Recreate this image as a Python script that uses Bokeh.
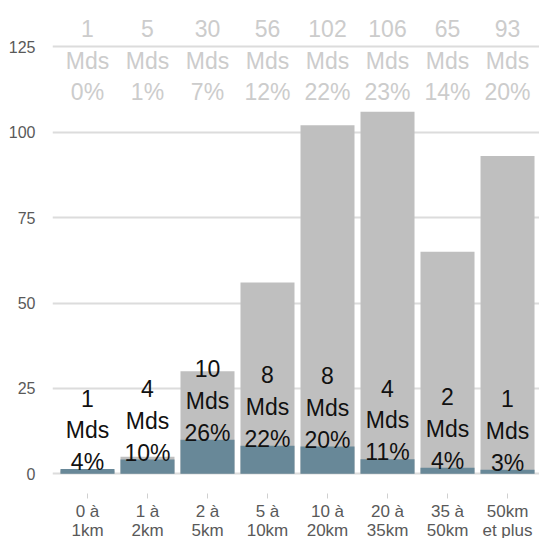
from bokeh.plotting import figure
from bokeh.models import Range1d, FixedTicker, ColumnDataSource
from bokeh.core.properties import value
from bokeh.embed import file_html
from bokeh.resources import INLINE

# Distance classes
categories = ["0 à\n1km", "1 à\n2km", "2 à\n5km", "5 à\n10km",
              "10 à\n20km", "20 à\n35km", "35 à\n50km", "50km\net plus"]
# Total volume per class (Mds) and share of the total
total_mds = [1, 5, 30, 56, 102, 106, 65, 93]
total_pct = ["0%", "1%", "7%", "12%", "22%", "23%", "14%", "20%"]
# Highlighted part per class (Mds) and its share
part_mds = [1.4, 4.2, 10, 8.2, 8, 4.3, 1.8, 1.2]
part_pct = ["4%", "10%", "26%", "22%", "20%", "11%", "4%", "3%"]
y_ticks = [0, 25, 50, 75, 100, 125]

FONT = "Liberation Sans"
idx = list(range(len(categories)))

src = ColumnDataSource(dict(
    x=idx,
    total=total_mds,
    part=part_mds,
    total_num=[f"{v:g}" for v in total_mds],
    total_pct=total_pct,
    part_num=[f"{round(v)}" for v in part_mds],
    part_pct=part_pct,
    mds=["Mds"] * len(idx),
    top=[125] * len(idx),
))

p = figure(frame_width=487, frame_height=493, output_backend="svg",
           toolbar_location=None,
           x_range=Range1d(-0.583, 7.533), y_range=Range1d(-5.75, 138.55),
           min_border_left=52, min_border_right=0, min_border_top=0,
           min_border_bottom=0)
p.outline_line_color = None
p.background_fill_color = "white"
p.border_fill_color = "white"

# Bars
p.vbar(x="x", top="total", bottom=0, width=0.9, source=src,
       fill_color="#bfbfbf", line_color=None)
p.vbar(x="x", top="part", bottom=0, width=0.9, source=src,
       fill_color="#688898", line_color=None)

# Labels inside the bars, stacked above the highlighted part
lab = dict(source=src, text_font=value(FONT), text_font_size="23px",
           text_color="#111111", text_align="center",
           text_baseline="alphabetic")
p.text(x="x", y="part", text="part_pct", y_offset=-7, **lab)
p.text(x="x", y="part", text="mds", y_offset=-39, **lab)
p.text(x="x", y="part", text="part_num", y_offset=-71, **lab)

# Totals along the top
top = dict(source=src, text_font=value(FONT), text_font_size="23px",
           text_color="#cccccc", text_align="center",
           text_baseline="alphabetic")
p.text(x="x", y="top", text="total_num", y_offset=-18, **top)
p.text(x="x", y="top", text="mds", y_offset=14, **top)
p.text(x="x", y="top", text="total_pct", y_offset=45, **top)

# Grid
p.xgrid.grid_line_color = None
p.ygrid.grid_line_color = "#dcdcdc"
p.ygrid.grid_line_width = 2
p.ygrid.level = "underlay"

# Axes
p.yaxis.ticker = FixedTicker(ticks=y_ticks)
p.yaxis.axis_line_color = None
p.yaxis.major_tick_line_color = None
p.yaxis.minor_tick_line_color = None
p.yaxis.major_label_standoff = 11
p.yaxis.major_label_text_font = FONT
p.yaxis.major_label_text_font_size = "16px"
p.yaxis.major_label_text_color = "#595959"

p.xaxis.ticker = FixedTicker(ticks=idx)
p.xaxis.major_label_overrides = {i: c for i, c in enumerate(categories)}
p.xaxis.axis_line_color = None
p.xaxis.major_tick_line_color = "#d0d0d0"
p.xaxis.major_tick_in = 0
p.xaxis.major_tick_out = 5
p.xaxis.minor_tick_line_color = None
p.xaxis.major_label_standoff = 3
p.xaxis.major_label_text_font = FONT
p.xaxis.major_label_text_font_size = "17px"
p.xaxis.major_label_text_color = "#595959"
p.xaxis.major_label_text_line_height = 1.0

open("out.html", "w").write(file_html(p, INLINE))
